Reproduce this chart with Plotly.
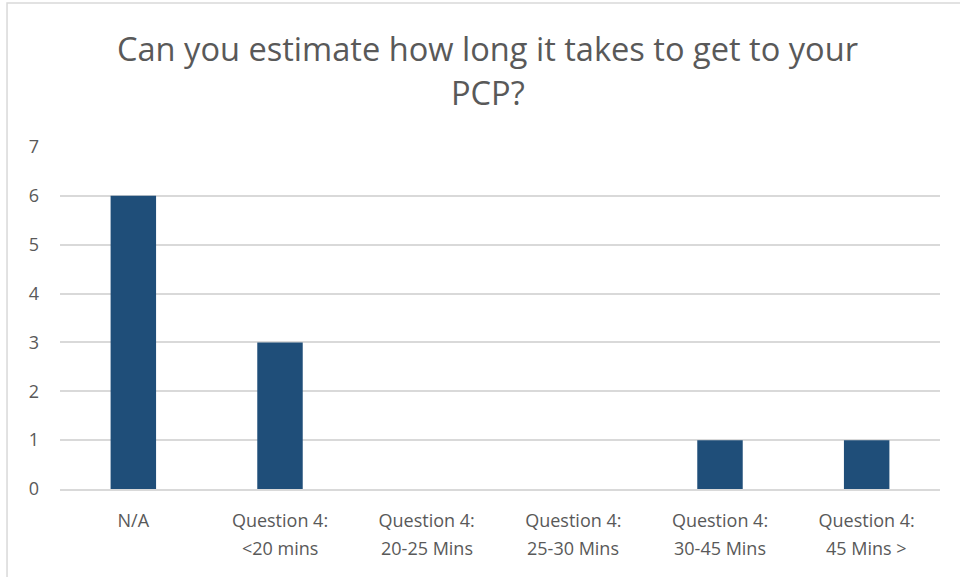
import plotly.graph_objects as go

categories = ["N/A", "Question 4:\n<20 mins", "Question 4:\n20-25 Mins",
              "Question 4:\n25-30 Mins", "Question 4:\n30-45 Mins", "Question 4:\n45 Mins >"]
values = [6, 3, 0, 0, 1, 1]
y_ticks = [0, 1, 2, 3, 4, 5, 6, 7]
title_lines = ["Can you estimate how long it takes to get to your", "PCP?"]

first_lines = [c.split("\n")[0] for c in categories]
second_lines = [c.split("\n")[1] if "\n" in c else "" for c in categories]

fig = go.Figure(go.Bar(x=categories, y=values, marker=dict(color="#1F4E79", line=dict(width=0))))

fig.update_layout(
    width=960, height=577,
    margin=dict(l=60, r=20, t=147, b=88, autoexpand=False),
    paper_bgcolor="white", plot_bgcolor="white",
    bargap=0.69,
    showlegend=False,
    font=dict(family="Open Sans", color="#595959"),
)
fig.add_annotation(text=title_lines[0], xref="paper", yref="paper", x=0.486, y=1.289,
                   xanchor="center", yanchor="middle", showarrow=False,
                   font=dict(size=32.6, color="#595959", family="Open Sans"))
fig.add_annotation(text=title_lines[1], xref="paper", yref="paper", x=0.486, y=1.158,
                   xanchor="center", yanchor="middle", showarrow=False,
                   font=dict(size=32.6, color="#595959", family="Open Sans"))
for c, s in zip(categories, second_lines):
    if s:
        fig.add_annotation(text=s.replace("<", "&lt;").replace(">", "&gt;"), x=c, xref="x",
                           yref="paper", y=-0.1725, xanchor="center", yanchor="middle",
                           showarrow=False, font=dict(size=18, color="#595959", family="Open Sans"))
fig.update_xaxes(showgrid=False, showline=True, linecolor="#d9d9d9", linewidth=1.5, automargin=False,
                 tickmode="array", tickvals=categories, ticktext=first_lines,
                 tickfont=dict(size=18, color="#595959"), ticks="", ticklabelstandoff=15)
fig.update_yaxes(range=[0, 7], tickvals=y_ticks, showgrid=True, gridcolor="#d9d9d9", gridwidth=1.5,
                 zeroline=False, showline=False, tickfont=dict(size=18, color="#595959"),
                 ticks="", ticklabelstandoff=20, automargin=False)
fig.add_shape(type="rect", xref="paper", yref="paper", x0=-0.0602, x1=1.2, y0=-0.5, y1=1.421,
              line=dict(color="#d9d9d9", width=1.5), fillcolor="rgba(0,0,0,0)", layer="below")

fig.write_html("out.html", post_script="document.body.style.margin='0';",
               config={"displayModeBar": False})
